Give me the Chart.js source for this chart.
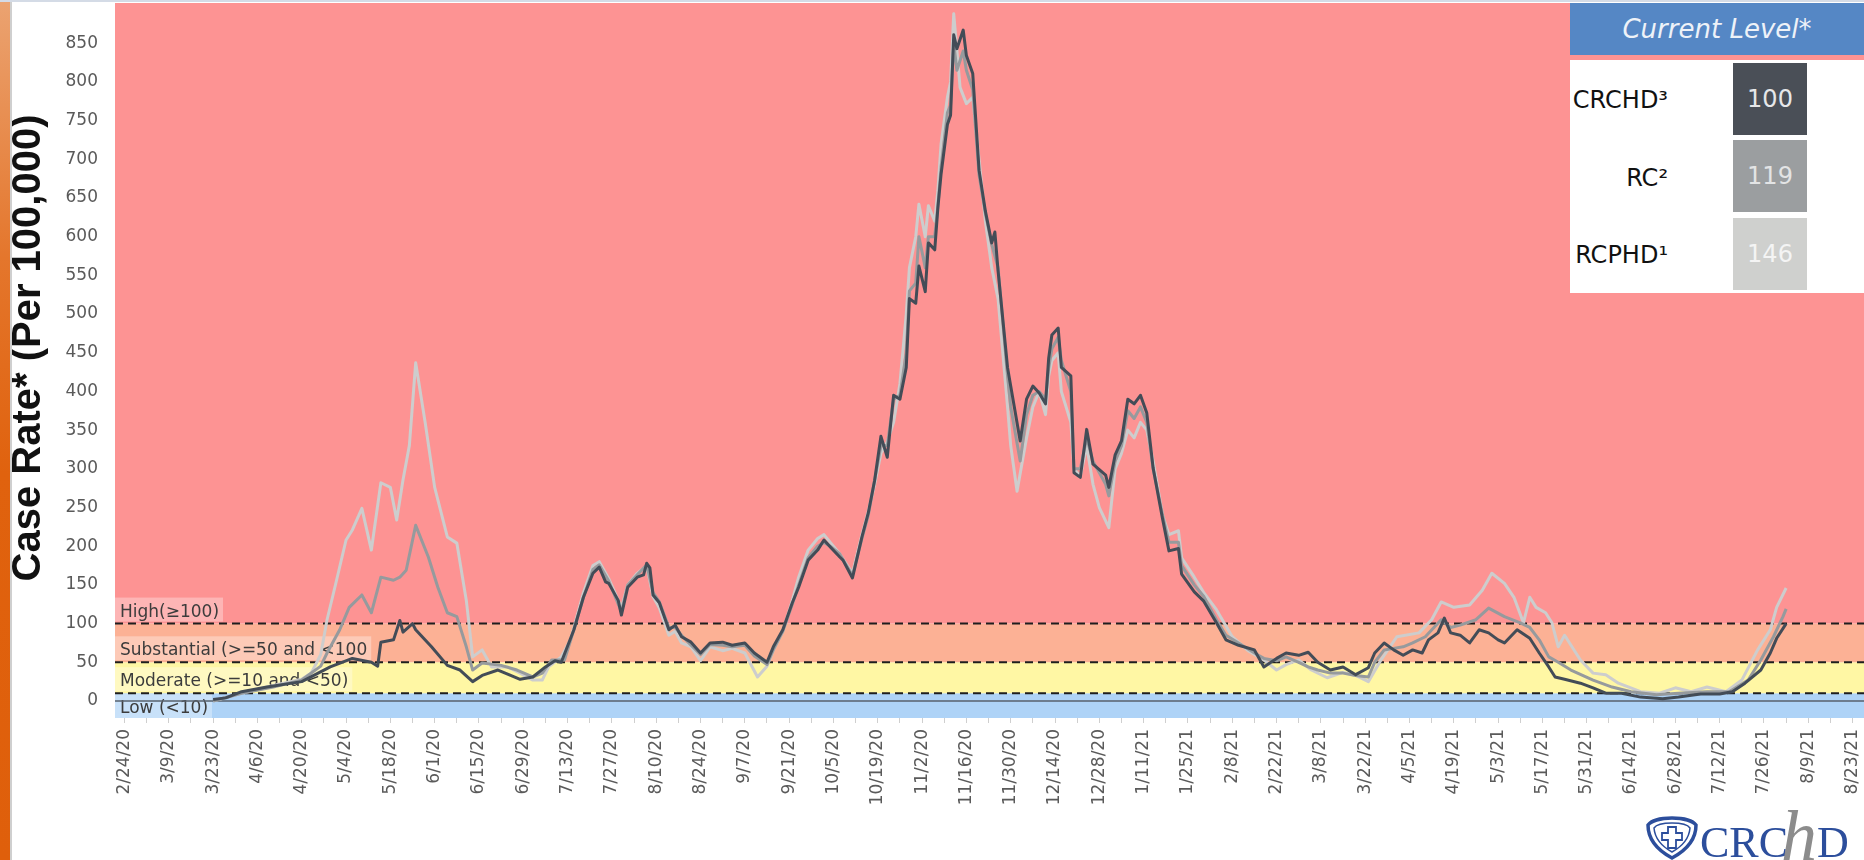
<!DOCTYPE html>
<html>
<head>
<meta charset="utf-8">
<title>Case Rate per 100,000</title>
<script src="https://cdn.jsdelivr.net/npm/chart.js@4.4.0/dist/chart.umd.min.js"></script>
<style>
  html, body { margin: 0; padding: 0; background: #fff; }
  #wrap { position: relative; width: 1864px; height: 860px; overflow: hidden; font-family: 'DejaVu Sans', sans-serif; }
  #rateChart { position: absolute; left: 0; top: 0; }
  #edge { position: absolute; left: 0; top: 0; width: 10px; height: 860px;
    background: linear-gradient(to bottom, #eba371 0%, #e4762c 30%, #e0620e 55%, #df5f0b 100%);
    border-right: 2px solid #cfcfcf; }
  #topline { position: absolute; left: 0; top: 0; width: 1864px; height: 2px; background: #d4dbe6; }
  .lvl-head { position: absolute; left: 1570px; top: 3px; width: 294px; height: 52px; background: #5587c5;
    color: #eef2f8; font-style: italic; font-size: 26px; line-height: 52px; text-align: center; }
  .lvl-body { position: absolute; left: 1570px; top: 60px; width: 294px; height: 233px; background: #fff; }
  .lvl-name { position: absolute; left: 1566px; width: 102px; text-align: right; font-size: 24px; line-height: 30px; color: #111; }
  .lvl-box { position: absolute; left: 1733px; width: 74px; height: 72px; line-height: 72px; text-align: center; font-size: 24px; }
  #logo { position: absolute; left: 1645px; top: 800px; }
</style>
</head>
<body>
<div id="wrap">
  <canvas id="rateChart" width="1864" height="860"></canvas>
  <div id="edge"></div>
  <div id="topline"></div>

  <div class="lvl-head">Current Level*</div>
  <div class="lvl-body"></div>
  <div class="lvl-name" style="top:85px">CRCHD³</div>
  <div class="lvl-box" style="top:63px;background:#4a4f57;color:#e6e7e9">100</div>
  <div class="lvl-name" style="top:163px">RC²</div>
  <div class="lvl-box" style="top:140px;background:#9b9ea0;color:#e3e4e5">119</div>
  <div class="lvl-name" style="top:240px">RCPHD¹</div>
  <div class="lvl-box" style="top:218px;background:#cfd0ce;color:#f4f4f4">146</div>

  <svg id="logo" width="219" height="60" viewBox="0 0 219 60">
    <path d="M27,18 C15,18 6,21 3,25 C3,41 14,51 27,58 C40,51 51,41 51,25 C48,21 39,18 27,18 Z" fill="none" stroke="#2c4e9c" stroke-width="3.5"/>
    <path d="M27,23 C18,23 11,25 9,28 C10,40 18,47 27,52 C36,47 44,40 45,28 C43,25 36,23 27,23 Z" fill="none" stroke="#2c4e9c" stroke-width="1.5"/>
    <path d="M23,27 h8 v6 h6 v7 h-6 v8 h-8 v-8 h-6 v-7 h6 Z" fill="none" stroke="#2c4e9c" stroke-width="1.8"/>
    <text x="55" y="57" font-family="Liberation Serif" font-size="44" fill="#2c4e9c">CRC</text>
    <text x="172" y="57" font-family="Liberation Serif" font-size="44" fill="#2c4e9c">D</text>
    <text x="136" y="60" font-family="Liberation Serif" font-style="italic" font-size="72" fill="#8c8c8c">h</text>
  </svg>
</div>

<script>
// x values are days since 2/24/20
const tickLabels = ['2/24/20', '3/9/20', '3/23/20', '4/6/20', '4/20/20', '5/4/20', '5/18/20', '6/1/20',
  '6/15/20', '6/29/20', '7/13/20', '7/27/20', '8/10/20', '8/24/20', '9/7/20', '9/21/20', '10/5/20',
  '10/19/20', '11/2/20', '11/16/20', '11/30/20', '12/14/20', '12/28/20', '1/11/21', '1/25/21', '2/8/21',
  '2/22/21', '3/8/21', '3/22/21', '4/5/21', '4/19/21', '5/3/21', '5/17/21', '5/31/21', '6/14/21',
  '6/28/21', '7/12/21', '7/26/21', '8/9/21', '8/23/21'];
const yTicks = [0, 50, 100, 150, 200, 250, 300, 350, 400, 450, 500, 550, 600, 650, 700, 750, 800, 850];

const crchdDays = [28, 32, 37, 45, 56, 65, 72, 78, 80, 81, 85, 87, 88, 91, 92, 97, 102, 106, 110, 113, 118, 122,
  125, 129, 133, 136, 138, 142, 145, 148, 150, 152, 153, 156, 157, 159, 162, 164, 165, 166, 167, 169, 172, 174,
  176, 179, 182, 185, 189, 192, 196, 199, 203, 205, 208, 211, 213, 216, 219, 221, 223, 226, 227, 230, 233, 235,
  237, 239, 241, 243, 245, 247, 248, 250, 251, 253, 254, 256, 257, 258, 260, 261, 262, 263, 265, 266, 268, 270,
  272, 274, 275, 276, 279, 280, 283, 285, 287, 289, 291, 292, 293, 295, 296, 299, 300, 302, 304, 306, 310, 311,
  313, 315, 317, 319, 321, 323, 325, 328, 330, 333, 334, 338, 341, 345, 348, 352, 357, 360, 364, 367, 371, 374,
  377, 381, 385, 389, 393, 395, 398, 401, 404, 407, 410, 412, 415, 417, 419, 422, 425, 428, 431, 434, 436, 440,
  444, 447, 450, 452, 455, 460, 464, 468, 473, 479, 486, 491, 498, 504, 508, 512, 517, 520, 522, 525];
const crchdRate = [2, 4, 12, 18, 25, 44, 55, 50, 45, 76, 79, 104, 89, 100, 92, 70, 46, 40, 25, 33, 40, 33,
  28, 31, 44, 52, 50, 92, 134, 165, 173, 154, 152, 130, 111, 147, 160, 163, 178, 172, 137, 127, 92, 98,
  83, 76, 62, 75, 76, 72, 75, 62, 50, 70, 92, 127, 147, 182, 195, 208, 199, 186, 182, 159, 212, 243,
  285, 342, 315, 395, 390, 431, 520, 514, 562, 529, 592, 583, 638, 681, 745, 757, 861, 843, 867, 834, 811, 686,
  633, 592, 606, 556, 431, 407, 336, 390, 407, 398, 384, 443, 473, 482, 431, 420, 295, 289, 351, 306, 292, 276,
  318, 336, 390, 384, 395, 372, 301, 235, 194, 197, 164, 141, 129, 101, 79, 72, 66, 44, 55, 62, 59, 63,
  50, 40, 44, 34, 43, 62, 75, 66, 59, 66, 62, 79, 88, 107, 88, 85, 75, 92, 88, 79, 75, 92,
  81, 62, 44, 31, 28, 23, 17, 10, 10, 5, 3, 5, 9, 9, 12, 23, 40, 62, 81, 100];

const rcDays = [28, 37, 47, 56, 62, 64, 68, 71, 75, 78, 81, 85, 87, 89, 92, 96, 99, 102, 105, 108, 110, 113,
  119, 124, 129, 132, 135, 139, 141, 145, 148, 150, 153, 156, 157, 159, 162, 165, 167, 169, 172, 174, 176, 179,
  182, 185, 189, 192, 196, 199, 203, 205, 208, 211, 213, 216, 219, 221, 223, 226, 230, 233, 235, 237, 239, 241,
  243, 245, 247, 248, 250, 251, 253, 254, 256, 257, 258, 260, 261, 262, 263, 265, 266, 268, 270, 272, 274, 276,
  279, 280, 283, 285, 287, 289, 291, 292, 293, 295, 296, 299, 300, 302, 304, 306, 310, 311, 313, 315, 317, 319,
  321, 323, 325, 328, 330, 333, 334, 338, 341, 345, 348, 352, 357, 360, 364, 367, 371, 374, 377, 381, 385, 389,
  393, 395, 398, 401, 404, 407, 411, 416, 419, 422, 427, 431, 436, 441, 444, 447, 450, 453, 457, 464, 470, 476,
  484, 491, 500, 507, 513, 517, 521, 524, 525];
const rcRate = [0, 10, 18, 27, 45, 62, 92, 121, 137, 114, 160, 156, 160, 169, 227, 186, 147, 114, 109, 70, 40, 49,
  46, 40, 31, 36, 53, 53, 79, 134, 170, 176, 155, 125, 115, 150, 163, 176, 140, 128, 95, 95, 85, 72,
  60, 73, 72, 70, 72, 58, 47, 66, 90, 125, 150, 185, 200, 205, 200, 190, 162, 210, 240, 285, 330, 330,
  390, 395, 450, 530, 540, 600, 560, 600, 600, 640, 690, 760, 770, 850, 815, 840, 815, 790, 680, 630, 590, 560,
  420, 380, 310, 370, 395, 400, 390, 430, 455, 470, 440, 400, 300, 300, 340, 310, 280, 265, 310, 330, 375, 365,
  380, 360, 300, 240, 205, 205, 175, 150, 135, 105, 85, 75, 62, 55, 52, 57, 50, 44, 40, 36, 36, 33,
  31, 50, 66, 68, 70, 75, 83, 105, 95, 98, 105, 120, 109, 101, 95, 79, 57, 50, 40, 27, 18, 12,
  8, 10, 12, 12, 27, 53, 83, 109, 119];

const rcphdDays = [28, 37, 47, 56, 59, 62, 64, 67, 70, 72, 75, 78, 81, 84, 86, 88, 90, 92, 95, 98, 102, 105,
  108, 110, 113, 116, 121, 125, 129, 132, 134, 138, 141, 145, 148, 150, 153, 156, 157, 159, 162, 165, 167, 169,
  172, 174, 176, 179, 182, 185, 189, 192, 196, 200, 203, 205, 208, 211, 213, 216, 219, 221, 223, 226, 230, 233,
  235, 237, 239, 241, 243, 245, 247, 248, 250, 251, 253, 254, 256, 257, 258, 260, 261, 262, 264, 266, 268, 270,
  272, 274, 276, 279, 280, 282, 285, 287, 289, 291, 292, 293, 295, 296, 299, 300, 302, 304, 306, 308, 311, 313,
  315, 317, 319, 321, 323, 325, 328, 330, 333, 334, 338, 341, 345, 350, 355, 360, 364, 367, 371, 375, 380, 385,
  389, 393, 397, 402, 409, 413, 416, 420, 425, 429, 432, 436, 439, 442, 444, 446, 449, 451, 453, 455, 460, 464,
  468, 472, 479, 485, 490, 495, 500, 506, 511, 516, 520, 522, 525];
const rcphdRate = [0, 10, 20, 28, 36, 60, 105, 156, 208, 221, 249, 195, 282, 276, 234, 286, 330, 437, 360, 276, 212, 204,
  130, 57, 66, 44, 44, 36, 27, 27, 44, 57, 80, 140, 175, 180, 158, 130, 120, 150, 165, 175, 135, 120,
  85, 90, 75, 70, 52, 70, 65, 68, 62, 31, 45, 66, 90, 130, 160, 195, 210, 215, 205, 190, 165, 215,
  245, 280, 320, 335, 360, 410, 500, 560, 600, 642, 600, 640, 620, 660, 720, 780, 800, 888, 793, 772, 780, 700,
  620, 560, 520, 380, 330, 271, 340, 380, 400, 370, 420, 440, 450, 400, 360, 300, 290, 330, 280, 250, 224, 300,
  320, 350, 340, 360, 350, 310, 240, 215, 220, 185, 160, 140, 118, 83, 65, 53, 40, 47, 53, 40, 30, 37,
  33, 25, 53, 83, 88, 105, 128, 121, 124, 143, 165, 152, 134, 101, 134, 121, 114, 101, 70, 85, 53, 36,
  34, 23, 12, 10, 17, 12, 18, 12, 27, 66, 92, 121, 146];

const bandEdges = [10, 50, 100];
const bandColors = ['#aed3f7', '#fff7a4', '#fcb195', '#fd9393'];
const bandLabels = ['Low (<10)', 'Moderate (>=10 and <50)', 'Substantial (>=50 and <100', 'High(≥100)'];

const toPoints = (days, vals) => days.map((d, i) => ({ x: d, y: vals[i] }));

const weekTicks = [];
for (let i = 0; i < tickLabels.length; i++) {
  weekTicks.push(i * 14);
  if (i < tickLabels.length - 1) weekTicks.push(i * 14 + 7);
}

const bands = {
  id: 'bands',
  beforeDatasetsDraw(chart) {
    const { ctx, chartArea: { left, right, top, bottom }, scales: { y } } = chart;
    const edges = [y.min, ...bandEdges, y.max];
    ctx.save();
    for (let i = 0; i < bandColors.length; i++) {
      const y0 = y.getPixelForValue(edges[i]);
      const y1 = y.getPixelForValue(edges[i + 1]);
      ctx.fillStyle = bandColors[i];
      ctx.fillRect(left, Math.min(y0, y1), right - left, Math.abs(y0 - y1));
    }
    ctx.font = '17px "DejaVu Sans"';
    for (let i = 0; i < bandLabels.length; i++) {
      const yb = i === 0 ? bottom : y.getPixelForValue(edges[i]) - 2;
      const w = ctx.measureText(bandLabels[i]).width + 9;
      ctx.fillStyle = 'rgba(255,255,255,0.32)';
      ctx.fillRect(left, yb - 24, w, 24);
      ctx.fillStyle = '#3c3c3c';
      ctx.fillText(bandLabels[i], left + 5, yb - 5);
    }
    ctx.strokeStyle = '#57616c';
    ctx.lineWidth = 1.5;
    const z = y.getPixelForValue(0);
    ctx.beginPath(); ctx.moveTo(left, z); ctx.lineTo(right, z); ctx.stroke();
    ctx.strokeStyle = '#1e1e1e';
    ctx.lineWidth = 2;
    ctx.setLineDash([8, 5]);
    bandEdges.forEach(v => {
      const p = y.getPixelForValue(v);
      ctx.beginPath(); ctx.moveTo(left, p); ctx.lineTo(right, p); ctx.stroke();
    });
    ctx.restore();
  },
  afterDraw(chart) {
    const { ctx } = chart;
    ctx.save();
    ctx.translate(29, 348);
    ctx.rotate(-Math.PI / 2);
    ctx.font = 'bold 40px "Liberation Sans"';
    ctx.fillStyle = '#111';
    ctx.textAlign = 'center';
    ctx.textBaseline = 'middle';
    ctx.fillText('Case Rate* (Per 100,000)', 0, 0);
    ctx.restore();
  }
};

new Chart(document.getElementById('rateChart'), {
  type: 'line',
  data: {
    datasets: [
      { label: 'CRCHD', data: toPoints(crchdDays, crchdRate), borderColor: '#434c57', borderWidth: 3, order: 0 },
      { label: 'RC', data: toPoints(rcDays, rcRate), borderColor: '#969a9d', borderWidth: 3, order: 1 },
      { label: 'RCPHD', data: toPoints(rcphdDays, rcphdRate), borderColor: '#cdcdcd', borderWidth: 3, order: 2 }
    ]
  },
  options: {
    responsive: false,
    animation: false,
    devicePixelRatio: 1,
    layout: { padding: { left: 12, top: 3, right: 0, bottom: 0 } },
    elements: { point: { radius: 0 }, line: { tension: 0, borderJoinStyle: 'round' } },
    plugins: { legend: { display: false }, tooltip: { enabled: false } },
    scales: {
      x: {
        type: 'linear',
        min: -3,
        max: 549.6,
        afterFit: s => { s.height = 142; s.paddingLeft = 0; s.paddingRight = 0; },
        afterBuildTicks: s => { s.ticks = weekTicks.map(v => ({ value: v })); },
        grid: { drawOnChartArea: false, color: '#cfcfcf', tickLength: 5 },
        border: { display: false },
        ticks: {
          autoSkip: false,
          minRotation: 90,
          maxRotation: 90,
          padding: 6,
          color: '#5a5a5a',
          font: { family: 'DejaVu Sans', size: 17 },
          callback: v => (v % 14 === 0 ? tickLabels[v / 14] : '')
        }
      },
      y: {
        min: -22,
        max: 902,
        afterFit: s => { s.width = 103; s.paddingTop = 0; s.paddingBottom = 0; },
        afterBuildTicks: s => { s.ticks = yTicks.map(v => ({ value: v })); },
        grid: { display: false },
        border: { display: false },
        ticks: {
          padding: 9,
          color: '#5a5a5a',
          font: { family: 'DejaVu Sans', size: 17 }
        }
      }
    }
  },
  plugins: [bands]
});
</script>
</body>
</html>
